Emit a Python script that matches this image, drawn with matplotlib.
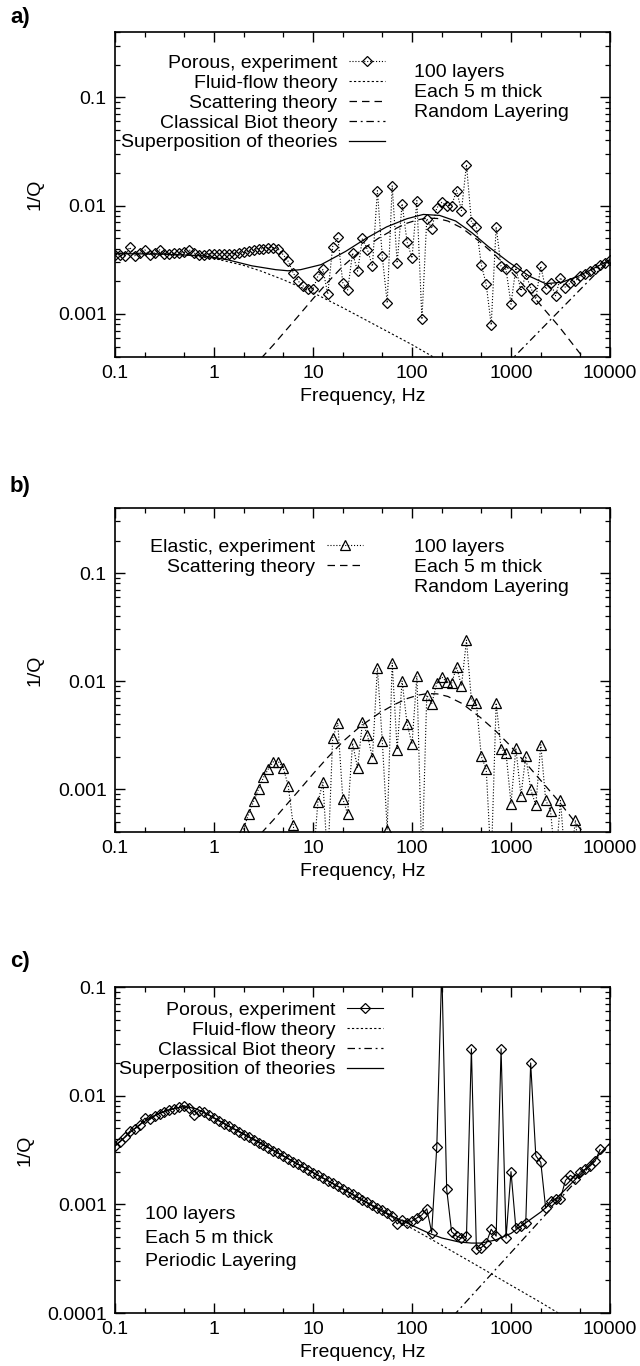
import numpy as np
import matplotlib
matplotlib.use("Agg")
import matplotlib.pyplot as plt
from matplotlib.ticker import LogLocator, FuncFormatter, NullFormatter

plt.rcParams['font.family'] = ['Liberation Sans', 'DejaVu Sans']

# ---------------- data ----------------
# experimental frequency grid (Hz), 20 points per decade
FREQ = [0.1, 0.112, 0.126, 0.141, 0.158, 0.178, 0.2, 0.224, 0.251, 0.282,
        0.316, 0.355, 0.398, 0.447, 0.501, 0.562, 0.631, 0.708, 0.794, 0.891,
        1.0, 1.12, 1.26, 1.41, 1.58, 1.78, 2.0, 2.24, 2.51, 2.82,
        3.16, 3.55, 3.98, 4.47, 5.01, 5.62, 6.31, 7.08, 7.94, 8.91,
        10.0, 11.2, 12.6, 14.1, 15.8, 17.8, 20.0, 22.4, 25.1, 28.2,
        31.6, 35.5, 39.8, 44.7, 50.1, 56.2, 63.1, 70.8, 79.4, 89.1,
        100, 112, 126, 141, 158, 178, 200, 224, 251, 282,
        316, 355, 398, 447, 501, 562, 631, 708, 794, 891,
        1000, 1120, 1260, 1410, 1580, 1780, 2000, 2240, 2510, 2820,
        3160, 3550, 3980, 4470, 5010, 5620, 6310, 7080, 7940, 8910, 10000]

# panel a: porous, random layering (1/Q)
POROUS_A = [3.51e-3, 3.51e-3, 3.44e-3, 4.12e-3, 3.44e-3, 3.64e-3, 3.90e-3, 3.51e-3, 3.64e-3, 3.90e-3,
            3.59e-3, 3.59e-3, 3.64e-3, 3.64e-3, 3.69e-3, 3.90e-3, 3.64e-3, 3.51e-3, 3.51e-3, 3.59e-3,
            3.59e-3, 3.59e-3, 3.59e-3, 3.59e-3, 3.59e-3, 3.64e-3, 3.69e-3, 3.77e-3, 3.85e-3, 3.95e-3,
            4.01e-3, 4.09e-3, 4.09e-3, 3.95e-3, 3.51e-3, 3.05e-3, 2.39e-3, 2.01e-3, 1.81e-3, 1.71e-3,
            1.69e-3, 2.23e-3, 2.57e-3, 1.52e-3, 4.18e-3, 5.08e-3, 1.94e-3, 1.66e-3, 3.64e-3, 2.48e-3,
            4.98e-3, 3.90e-3, 2.75e-3, 1.37e-2, 3.39e-3, 1.26e-3, 1.52e-2, 2.95e-3, 1.04e-2, 4.64e-3,
            3.27e-3, 1.11e-2, 8.9e-4, 7.56e-3, 6.14e-3, 9.52e-3, 1.07e-2, 1.00e-2, 1.00e-2, 1.37e-2,
            9.0e-3, 2.39e-2, 7.06e-3, 6.35e-3, 2.85e-3, 1.87e-3, 7.9e-4, 6.35e-3, 2.75e-3, 2.57e-3,
            1.23e-3, 2.66e-3, 1.63e-3, 2.31e-3, 1.75e-3, 1.37e-3, 2.75e-3, 1.69e-3, 1.94e-3, 1.47e-3,
            2.16e-3, 1.75e-3, 1.94e-3, 2.01e-3, 2.23e-3, 2.31e-3, 2.48e-3, 2.60e-3, 2.85e-3, 2.95e-3, 3.16e-3]

# panel b: elastic, random layering (starts at FREQ[25]; 2e-4 = below the axis)
FREQ_B = FREQ[25:95]
ELASTIC_B = [2e-4, 4.33e-4, 5.93e-4, 7.67e-4, 1.0e-3, 1.28e-3, 1.54e-3, 1.79e-3, 1.79e-3, 1.57e-3,
             1.07e-3, 4.65e-4, 2e-4, 2e-4, 2e-4, 2e-4, 7.57e-4, 1.15e-3, 2e-4, 2.95e-3,
             4.09e-3, 8.11e-4, 5.85e-4, 2.66e-3, 1.57e-3, 4.18e-3, 3.16e-3, 1.94e-3, 1.32e-2, 2.79e-3,
             4.2e-4, 1.47e-2, 2.31e-3, 1.00e-2, 4.03e-3, 2.60e-3, 1.11e-2, 2e-4, 7.41e-3, 6.14e-3,
             9.52e-3, 1.09e-2, 9.79e-3, 9.52e-3, 1.35e-2, 9.0e-3, 2.39e-2, 6.67e-3, 6.27e-3, 2.01e-3,
             1.52e-3, 2e-4, 6.27e-3, 2.36e-3, 2.16e-3, 7.31e-4, 2.39e-3, 8.69e-4, 2.01e-3, 1.0e-3,
             7.05e-4, 2.57e-3, 7.94e-4, 6.27e-4, 2e-4, 7.83e-4, 2e-4, 2e-4, 5.15e-4, 2e-4]

# panel c: porous, periodic layering (FREQ[0:99]; 0.15 = above the axis)
FREQ_C = FREQ[0:99]
POROUS_C = [3.45e-3, 3.75e-3, 4.15e-3, 4.7e-3, 4.95e-3, 5.35e-3, 6.2e-3, 6.05e-3, 6.5e-3, 6.85e-3,
            7.1e-3, 7.4e-3, 7.6e-3, 7.8e-3, 8.1e-3, 7.7e-3, 6.6e-3, 7.3e-3, 7.0e-3, 6.6e-3,
            6.2e-3, 5.85e-3, 5.53e-3, 5.22e-3, 4.93e-3, 4.65e-3, 4.39e-3, 4.15e-3, 3.91e-3, 3.70e-3,
            3.49e-3, 3.30e-3, 3.11e-3, 2.94e-3, 2.77e-3, 2.62e-3, 2.47e-3, 2.33e-3, 2.20e-3, 2.08e-3,
            1.96e-3, 1.85e-3, 1.75e-3, 1.65e-3, 1.56e-3, 1.47e-3, 1.39e-3, 1.31e-3, 1.24e-3, 1.17e-3,
            1.10e-3, 1.04e-3, 9.8e-4, 9.3e-4, 8.9e-4, 8.3e-4, 7.8e-4, 6.6e-4, 7.2e-4, 6.8e-4,
            7.0e-4, 7.5e-4, 8.0e-4, 9.1e-4, 5.5e-4, 3.4e-3, 0.15, 1.38e-3, 5.6e-4, 5.1e-4,
            4.9e-4, 5.1e-4, 2.7e-2, 3.9e-4, 4.0e-4, 4.4e-4, 5.9e-4, 5.1e-4, 2.7e-2, 4.9e-4,
            2.0e-3, 6.0e-4, 6.3e-4, 6.8e-4, 2.0e-2, 2.8e-3, 2.43e-3, 9.2e-4, 1.08e-3, 1.12e-3,
            1.13e-3, 1.66e-3, 1.85e-3, 1.72e-3, 1.98e-3, 2.1e-3, 2.27e-3, 2.5e-3, 3.2e-3]

# theory curves, panel a
FLUID_A_F = [0.1, 0.2, 0.5, 1, 2, 3, 5, 10, 20, 50, 100, 150, 200]
FLUID_A_V = [3.65e-3, 3.62e-3, 3.5e-3, 3.25e-3, 2.8e-3, 2.48e-3, 2.07e-3, 1.57e-3, 1.14e-3, 7.3e-4,
             5.2e-4, 4.2e-4, 3.6e-4]
SCAT_F = [3, 4, 5, 7, 10, 14, 20, 30, 46, 65, 90, 115, 143, 180, 230, 320, 490, 700, 950, 1400,
          2000, 3000, 4800, 6000]
SCAT_V = [3.9e-4, 5.2e-4, 6.6e-4, 9.4e-4, 1.38e-3, 1.95e-3, 2.75e-3, 3.8e-3, 5.0e-3, 6.0e-3,
          6.9e-3, 7.4e-3, 7.65e-3, 7.6e-3, 7.2e-3, 6.2e-3, 4.6e-3, 3.45e-3, 2.6e-3, 1.75e-3,
          1.2e-3, 7.8e-4, 4.5e-4, 3.5e-4]
BIOT_A_F = [900, 10000]
BIOT_A_V = [3.4e-4, 3.2e-3]
SUP_A_F = [0.1, 0.3, 0.77, 1.37, 2.4, 4.2, 5.6, 7.5, 12.1, 21.3, 34.4, 55.3, 88.9, 130, 190, 276,
           404, 590, 950, 1530, 2240, 3270, 4790, 7000, 10000]
SUP_A_V = [3.6e-3, 3.56e-3, 3.44e-3, 3.16e-3, 2.78e-3, 2.56e-3, 2.5e-3, 2.56e-3, 2.85e-3, 3.77e-3,
           4.98e-3, 6.35e-3, 7.56e-3, 8.28e-3, 8.11e-3, 7.2e-3, 5.6e-3, 4.18e-3, 3.0e-3, 2.23e-3,
           1.9e-3, 1.96e-3, 2.23e-3, 2.66e-3, 3.16e-3]

# theory curves, panel c
FLUID_C_F = [0.1, 0.12, 0.15, 0.18, 0.22, 0.27, 0.33, 0.4, 0.47, 0.55, 0.65, 0.77, 0.9, 1.0, 1.2,
             1.5, 2.0, 3.0, 5.0, 10, 20, 50, 100, 200, 500, 1000, 2000, 3000, 5000]
FLUID_C_V = [3.45e-3, 4.0e-3, 4.8e-3, 5.45e-3, 6.15e-3, 6.8e-3, 7.3e-3, 7.65e-3, 7.85e-3, 7.85e-3,
             7.6e-3, 7.1e-3, 6.6e-3, 6.25e-3, 5.7e-3, 5.1e-3, 4.45e-3, 3.65e-3, 2.8e-3, 1.96e-3,
             1.38e-3, 8.6e-4, 6.0e-4, 4.2e-4, 2.6e-4, 1.8e-4, 1.25e-4, 1.0e-4, 7.8e-5]
BIOT_C_F = [200, 10000]
BIOT_C_V = [7.2e-5, 3.6e-3]
SUP_C_F = FLUID_C_F[:22] + [100, 150, 200, 300, 400, 500, 700, 1000, 2000, 3000, 5000, 10000]
SUP_C_V = FLUID_C_V[:22] + [6.4e-4, 5.4e-4, 4.9e-4, 4.5e-4, 4.4e-4, 4.4e-4, 4.7e-4, 5.4e-4, 8.5e-4,
                            1.18e-3, 1.88e-3, 3.66e-3]

X_TICKS = [0.1, 1, 10, 100, 1000, 10000]

# ---------------- figure ----------------
FS = 14
fig = plt.figure(figsize=(6.4, 13.66), dpi=100)
W, H = 640.0, 1366.0


def make_ax(top, bottom, ylim, yticks):
    ax = fig.add_axes([115 / W, 1 - bottom / H, 495 / W, (bottom - top) / H])
    ax.set_xscale('log')
    ax.set_yscale('log')
    ax.set_xlim(0.1, 10000)
    ax.set_ylim(*ylim)
    ax.set_xticks(X_TICKS)
    ax.xaxis.set_minor_locator(LogLocator(base=10, subs=(2.0, 5.0), numticks=20))
    ax.set_yticks(yticks)
    ax.yaxis.set_minor_locator(LogLocator(base=10, subs=np.arange(2, 10), numticks=20))
    fmt = FuncFormatter(lambda v, p: '%g' % v)
    ax.xaxis.set_major_formatter(fmt)
    ax.yaxis.set_major_formatter(fmt)
    ax.xaxis.set_minor_formatter(NullFormatter())
    ax.yaxis.set_minor_formatter(NullFormatter())
    ax.tick_params(which='both', direction='in', top=True, right=True, labelsize=14)
    ax.tick_params(which='major', length=7, width=1.0, pad=6)
    ax.tick_params(which='minor', length=3.5, width=0.9)
    for s in ax.spines.values():
        s.set_linewidth(1.2)
    ax.set_xlabel('Frequency, Hz', fontsize=FS, labelpad=4)
    ax.set_ylabel('1/Q', fontsize=FS, labelpad=10)
    return ax


mk = dict(mfc='none', mec='black', mew=0.9, color='black')
LEG = dict(loc='upper right', frameon=False, markerfirst=False, fontsize=FS, borderpad=0,
           borderaxespad=0, handlelength=1.85, handletextpad=0.6, labelspacing=0.12, numpoints=1)

# ---- panel a ----
axa = make_ax(32, 357, (4e-4, 0.4), [0.001, 0.01, 0.1])
axa.plot(FREQ, POROUS_A, linestyle=':', lw=0.8, marker='D', ms=5.2,
         label='Porous, experiment', **mk)
axa.plot(FLUID_A_F, FLUID_A_V, color='black', lw=0.8, ls=(0, (2, 2)), label='Fluid-flow theory')
axa.plot(SCAT_F, SCAT_V, color='black', lw=0.9, ls=(0, (6, 4)), label='Scattering theory')
axa.plot(BIOT_A_F, BIOT_A_V, color='black', lw=0.9, ls=(0, (6, 3, 1.5, 3)),
         label='Classical Biot theory')
axa.plot(SUP_A_F, SUP_A_V, color='black', lw=0.9, label='Superposition of theories')
axa.legend(bbox_to_anchor=(0.545, 0.932), **LEG)
axa.text(0.604, 0.815, '100 layers\nEach 5 m thick\nRandom Layering', transform=axa.transAxes,
         ha='left', va='center', fontsize=FS, linespacing=1.23)

# ---- panel b ----
axb = make_ax(508, 832, (4e-4, 0.4), [0.001, 0.01, 0.1])
axb.plot(FREQ_B, ELASTIC_B, linestyle=':', lw=0.8, marker='^', ms=7,
         label='Elastic, experiment', **mk)
axb.plot(SCAT_F, SCAT_V, color='black', lw=0.9, ls=(0, (6, 4)), label='Scattering theory')
axb.legend(bbox_to_anchor=(0.50, 0.907), **LEG)
axb.text(0.604, 0.816, '100 layers\nEach 5 m thick\nRandom Layering', transform=axb.transAxes,
         ha='left', va='center', fontsize=FS, linespacing=1.23)

# ---- panel c ----
axc = make_ax(987, 1313, (1e-4, 0.1), [0.0001, 0.001, 0.01, 0.1])
axc.plot(FREQ_C, POROUS_C, linestyle='-', lw=0.8, marker='D', ms=5.2,
         label='Porous, experiment', **mk)
axc.plot(FLUID_C_F, FLUID_C_V, color='black', lw=0.8, ls=(0, (2, 2)), label='Fluid-flow theory')
axc.plot(BIOT_C_F, BIOT_C_V, color='black', lw=0.9, ls=(0, (6, 3, 1.5, 3)),
         label='Classical Biot theory')
axc.plot(SUP_C_F, SUP_C_V, color='black', lw=0.9, label='Superposition of theories')
axc.legend(bbox_to_anchor=(0.541, 0.957), **LEG)
axc.text(0.06, 0.23, '100 layers\nEach 5 m thick\nPeriodic Layering', transform=axc.transAxes,
         ha='left', va='center', fontsize=FS, linespacing=1.5)

for lab, y in (('a)', 18), ('b)', 487), ('c)', 962)):
    fig.text(10 / W, 1 - y / H, lab, fontsize=FS + 2, fontweight='bold', va='center', ha='left')

fig.savefig('out.png', dpi=100)
